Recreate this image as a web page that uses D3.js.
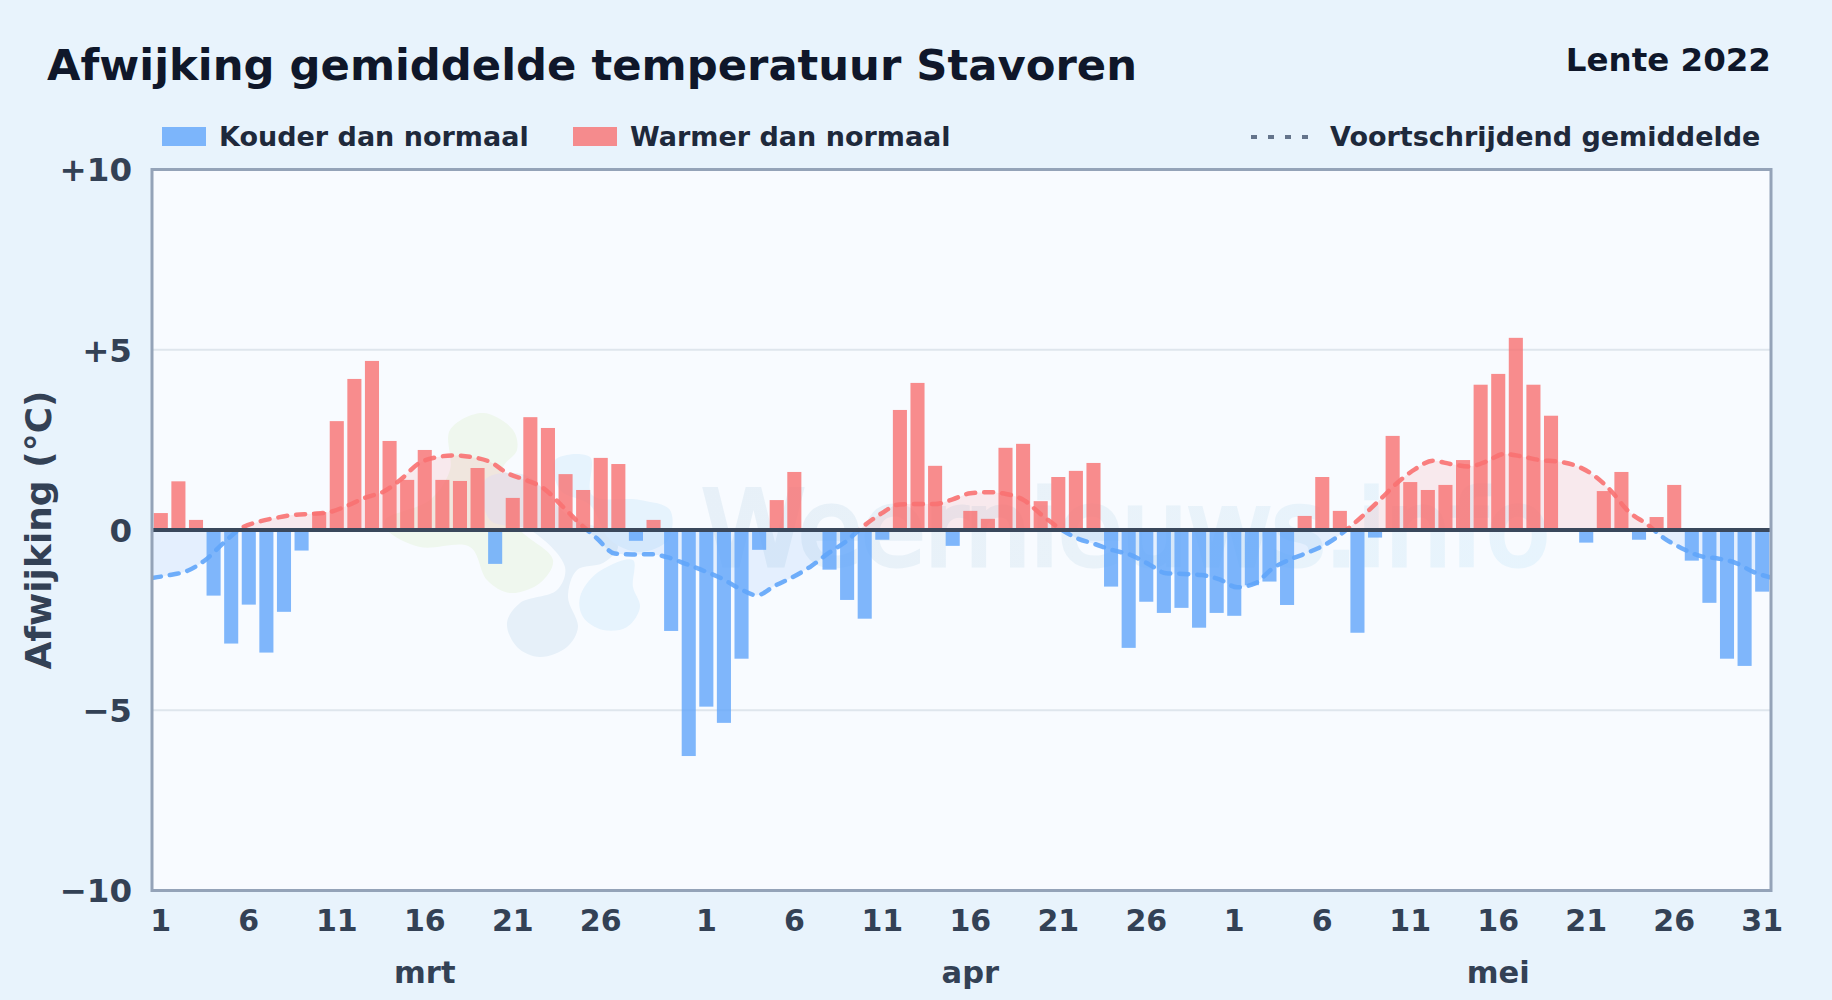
<!DOCTYPE html>
<html>
<head>
<meta charset="utf-8">
<script src="https://cdn.jsdelivr.net/npm/d3@7"></script>
<style>
  html, body { margin: 0; padding: 0; background: #e8f3fc; }
  svg { display: block; }
  text { font-family: "DejaVu Sans", sans-serif; font-weight: 700; }
</style>
</head>
<body>
<svg id="chart" width="1832" height="1000"></svg>
<script>
// daily deviation from normal
const marValues = [0.47, 1.35, 0.28, -1.82, -3.15, -2.07, -3.4, -2.27, -0.57, 0.5, 3.02, 4.19, 4.69, 2.47, 1.39, 2.22, 1.39, 1.36, 1.72, -0.94, 0.89, 3.13, 2.83, 1.55, 1.11, 2.0, 1.83, -0.3, 0.28, -2.8, -6.27];
const aprValues = [-4.9, -5.35, -3.57, -0.55, 0.83, 1.61, 0, -1.1, -1.94, -2.46, -0.27, 3.33, 4.08, 1.78, -0.44, 0.53, 0.31, 2.28, 2.39, 0.8, 1.47, 1.64, 1.86, -1.57, -3.27, -1.99, -2.3, -2.16, -2.71, -2.3];
const meiValues = [-2.38, -1.53, -1.43, -2.08, 0.39, 1.47, 0.53, -2.85, -0.21, 2.61, 1.33, 1.11, 1.25, 1.94, 4.03, 4.33, 5.33, 4.03, 3.17, 0, -0.35, 1.08, 1.61, -0.27, 0.36, 1.25, -0.85, -2.02, -3.57, -3.77, -1.71];

// moving average
const marAvg = [-1.33, -1.25, -1.13, -0.83, -0.37, 0.05, 0.23, 0.34, 0.42, 0.45, 0.5, 0.68, 0.9, 1.06, 1.41, 1.85, 2.02, 2.07, 2.02, 1.89, 1.57, 1.39, 1.16, 0.69, 0.2, -0.23, -0.65, -0.68, -0.67, -0.76, -0.94];
const aprAvg = [-1.13, -1.34, -1.62, -1.81, -1.55, -1.31, -1.02, -0.65, -0.32, 0.11, 0.46, 0.71, 0.72, 0.72, 0.85, 1.02, 1.05, 1.0, 0.83, 0.42, 0.05, -0.23, -0.39, -0.56, -0.69, -0.94, -1.2, -1.22, -1.25, -1.37];
const meiAvg = [-1.59, -1.48, -1.06, -0.81, -0.62, -0.39, -0.05, 0.37, 0.83, 1.31, 1.69, 1.92, 1.83, 1.76, 1.9, 2.11, 2.04, 1.94, 1.9, 1.79, 1.53, 1.09, 0.51, 0.17, -0.23, -0.51, -0.72, -0.79, -0.91, -1.16, -1.32];

const months = ['mrt', 'apr', 'mei'];
const monthLengths = [31, 30, 31];
const dayTicks = [1, 6, 11, 16, 21, 26];
const meiExtraTick = 31;
const yTicks = [10, 5, 0, -5, -10];
const gridTicks = [5, -5];

const values = [...marValues, ...aprValues, ...meiValues];
const averages = [...marAvg, ...aprAvg, ...meiAvg];
const indexes = d3.range(values.length);

// watermark blobs, purely decoration
const blobGreen = [[450,430],[483,413],[513,430],[517,450],[503,467],[500,500],[520,530],[553,560],[540,583],[510,593],[487,580],[470,547],[420,547],[387,530],[385,520],[430,500],[450,470]];
const blobNavy = [[507,623],[520,603],[557,590],[565,567],[530,530],[490,520],[485,480],[525,475],[570,517],[603,530],[618,547],[603,563],[577,570],[568,597],[578,627],[567,647],[540,657],[517,647]];
const blobBlueLow = [[580,597],[597,573],[633,560],[633,587],[640,607],[627,627],[603,630],[583,617]];
const blobBlueUp = [[555,460],[590,457],[592,495],[640,500],[670,510],[668,540],[640,552],[610,540],[590,505],[560,490]];

const plotLeft = 152, plotRight = 1771, plotTop = 169.5, plotBottom = 890.5;

const svg = d3.select('#chart');
const x = d3.scaleBand().domain(indexes).range([plotLeft, plotRight]).paddingInner(0.2).paddingOuter(0.1);
const xLine = d3.scaleLinear().domain([0, values.length - 1]).range([plotLeft, plotRight]);
const y = d3.scaleLinear().domain([-10, 10]).range([plotBottom, plotTop]);
const dayCenter = i => x(i) + x.bandwidth() / 2;

svg.append('rect').attr('width', 1832).attr('height', 1000).attr('fill', '#e8f3fc');
svg.append('rect').attr('x', plotLeft).attr('y', plotTop).attr('width', plotRight - plotLeft).attr('height', plotBottom - plotTop).attr('fill', '#f8fbff');

const defs = svg.append('defs');
defs.append('clipPath').attr('id', 'above').append('rect').attr('x', plotLeft).attr('y', plotTop).attr('width', plotRight - plotLeft).attr('height', y(0) - plotTop);
defs.append('clipPath').attr('id', 'below').append('rect').attr('x', plotLeft).attr('y', y(0)).attr('width', plotRight - plotLeft).attr('height', plotBottom - y(0));
const wmGrad = defs.append('linearGradient').attr('id', 'wmGrad').attr('gradientUnits', 'userSpaceOnUse')
  .attr('x1', 700).attr('x2', 1550).attr('y1', 0).attr('y2', 0);
wmGrad.append('stop').attr('offset', '0%').attr('stop-color', '#e7f0f8');
wmGrad.append('stop').attr('offset', '45%').attr('stop-color', '#e9f2f9');
wmGrad.append('stop').attr('offset', '100%').attr('stop-color', '#e7f4fd');

// watermark
const blob = d3.line().curve(d3.curveCatmullRomClosed.alpha(0.5));
const wm = svg.append('g');
wm.append('path').attr('d', blob(blobGreen)).attr('fill', '#eff7ee');
wm.append('path').attr('d', blob(blobNavy)).attr('fill', '#e6f0f9');
wm.append('path').attr('d', blob(blobBlueLow)).attr('fill', '#e6f3fd');
wm.append('path').attr('d', blob(blobBlueUp)).attr('fill', '#e6f3fd');
wm.append('text').attr('x', 702).attr('y', 565).attr('font-size', 104).attr('textLength', 848).style('font-weight', 400)
  .attr('fill', 'url(#wmGrad)').attr('stroke', 'url(#wmGrad)').attr('stroke-width', 5).text('Weernieuws.info');

// grid
svg.selectAll('.grid').data(gridTicks).join('line').attr('class', 'grid')
  .attr('x1', plotLeft).attr('x2', plotRight).attr('y1', d => y(d)).attr('y2', d => y(d))
  .attr('stroke', '#dfe6ed').attr('stroke-width', 2);

// moving average fill
const area = d3.area().x((d, i) => xLine(i)).y0(y(0)).y1(d => y(d)).curve(d3.curveMonotoneX);
const avgLine = d3.line().x((d, i) => xLine(i)).y(d => y(d)).curve(d3.curveMonotoneX);
svg.append('path').attr('d', area(averages)).attr('fill', '#f87171').attr('opacity', 0.13).attr('clip-path', 'url(#above)');
svg.append('path').attr('d', area(averages)).attr('fill', '#60a5fa').attr('opacity', 0.13).attr('clip-path', 'url(#below)');

// bars
svg.selectAll('.bar').data(values).join('rect').attr('class', 'bar')
  .attr('x', (d, i) => x(i)).attr('width', x.bandwidth())
  .attr('y', d => Math.min(y(d), y(0))).attr('height', d => Math.abs(y(d) - y(0)))
  .attr('fill', d => d >= 0 ? '#f87171' : '#60a5fa').attr('fill-opacity', 0.8);

// moving average line, red above zero and blue below
[['above', '#f87171'], ['below', '#60a5fa']].forEach(([clip, color]) => {
  svg.append('path').attr('d', avgLine(averages)).attr('fill', 'none').attr('stroke', color)
    .attr('stroke-width', 4.5).attr('stroke-dasharray', '9 9').attr('stroke-linecap', 'round').attr('stroke-opacity', 0.9)
    .attr('clip-path', `url(#${clip})`);
});

svg.append('line').attr('x1', plotLeft).attr('x2', plotRight).attr('y1', y(0)).attr('y2', y(0)).attr('stroke', '#3a485c').attr('stroke-width', 4);
svg.append('rect').attr('x', plotLeft).attr('y', plotTop).attr('width', plotRight - plotLeft).attr('height', plotBottom - plotTop)
  .attr('fill', 'none').attr('stroke', '#94a3b8').attr('stroke-width', 3);

// y axis
const yAxis = svg.append('g').attr('transform', `translate(${plotLeft},1)`)
  .call(d3.axisLeft(y).tickValues(yTicks).tickSize(0).tickPadding(20)
    .tickFormat(d => d > 0 ? `+${d}` : d < 0 ? `\u2212${-d}` : '0'));
yAxis.select('.domain').remove();
yAxis.selectAll('text').attr('font-size', 32.5).attr('fill', '#334155').style('font-family', '"DejaVu Sans", sans-serif');

// x axis: one tick group per month
let offset = 0;
const tickIndexes = [];
const monthCenters = [];
monthLengths.forEach((len, m) => {
  dayTicks.forEach(d => tickIndexes.push({ i: offset + d - 1, label: d }));
  monthCenters.push({ i: offset + 15, label: months[m] });
  offset += len;
});
tickIndexes.push({ i: values.length - 1, label: meiExtraTick });

svg.selectAll('.day').data(tickIndexes).join('text').attr('class', 'day')
  .attr('x', d => dayCenter(d.i)).attr('y', 930.5).attr('text-anchor', 'middle')
  .attr('font-size', 30).attr('fill', '#334155').text(d => d.label);
svg.selectAll('.month').data(monthCenters).join('text').attr('class', 'month')
  .attr('x', d => dayCenter(d.i)).attr('y', 982.5).attr('text-anchor', 'middle')
  .attr('font-size', 30.5).attr('fill', '#334155').text(d => d.label);

svg.append('text').attr('transform', `translate(51,530) rotate(-90)`).attr('text-anchor', 'middle')
  .attr('font-size', 36).attr('fill', '#334155').text('Afwijking (\u00b0C)');

// titles
svg.append('text').attr('x', 47).attr('y', 80).attr('font-size', 43.3).attr('fill', '#0f172a').text('Afwijking gemiddelde temperatuur Stavoren');
svg.append('text').attr('x', 1771).attr('y', 71).attr('text-anchor', 'end').attr('font-size', 32.5).attr('fill', '#0f172a').text('Lente 2022');

// legend
const legendText = (xPos, label) => svg.append('text').attr('x', xPos).attr('y', 146).attr('font-size', 27).attr('fill', '#1e293b').text(label);
svg.append('rect').attr('x', 162).attr('y', 127).attr('width', 44).attr('height', 19).attr('fill', '#60a5fa').attr('fill-opacity', 0.8);
legendText(219, 'Kouder dan normaal');
svg.append('rect').attr('x', 573).attr('y', 127).attr('width', 44).attr('height', 19).attr('fill', '#f87171').attr('fill-opacity', 0.8);
legendText(630, 'Warmer dan normaal');
svg.append('line').attr('x1', 1251).attr('x2', 1309).attr('y1', 137).attr('y2', 137).attr('stroke', '#64748b').attr('stroke-width', 4).attr('stroke-dasharray', '6 11');
legendText(1330, 'Voortschrijdend gemiddelde');
</script>
</body>
</html>
